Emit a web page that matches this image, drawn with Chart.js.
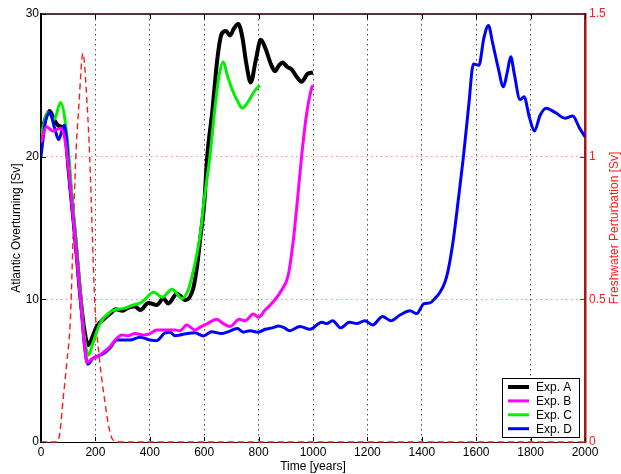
<!DOCTYPE html>
<html>
<head>
<meta charset="utf-8">
<script src="https://cdn.jsdelivr.net/npm/chart.js@4/dist/chart.umd.min.js"></script>
<style>
  html, body { margin: 0; padding: 0; background: #fff; }
</style>
</head>
<body>
<canvas id="overturning" width="621" height="474"></canvas>
<script>
// tick positions
const timeTicks = [0, 200, 400, 600, 800, 1000, 1200, 1400, 1600, 1800, 2000];
const sverdrupTicks = [0, 10, 20, 30];
const perturbationTicks = [0, 0.5, 1, 1.5];

// Exp. A
const expAYears = [0, 15, 32, 48, 62, 80, 90, 102, 125, 146, 160, 173, 190, 205, 230, 254, 275, 300, 320, 345, 365, 395, 425, 450, 468, 500, 532, 560, 575, 585, 600, 611, 630, 648, 664, 680, 695, 710, 725, 740, 755, 771, 790, 808, 825, 845, 860, 875, 888, 905, 922, 940, 958, 980, 1000];
const expAValues = [21.5, 22.6, 23.2, 22.6, 22.2, 22.0, 21.5, 19.0, 14.5, 10.0, 7.8, 6.8, 7.4, 8.1, 8.6, 9.0, 9.3, 9.2, 9.4, 9.5, 9.25, 9.75, 9.6, 10.05, 9.7, 10.4, 9.95, 10.8, 12.5, 14.2, 16.7, 20.0, 23.2, 26.8, 28.6, 28.8, 28.5, 29.0, 29.3, 28.4, 26.5, 25.2, 26.8, 28.2, 27.6, 26.5, 26.0, 26.4, 26.6, 26.3, 26.1, 25.6, 25.25, 25.8, 25.9];

// Exp. B
const expBYears = [0, 20, 44, 72, 90, 102, 125, 146, 160, 170, 185, 209, 230, 254, 275, 297, 320, 345, 376, 401, 425, 450, 493, 511, 536, 566, 585, 609, 646, 670, 695, 729, 750, 781, 799, 824, 854, 885, 909, 928, 943, 958, 975, 995, 1000];
const expBValues = [21.0, 22.1, 21.8, 22.0, 21.0, 19.0, 14.3, 9.8, 6.8, 5.55, 5.8, 6.0, 6.3, 6.7, 7.2, 7.5, 7.45, 7.6, 7.5, 7.6, 7.85, 7.85, 7.85, 7.8, 8.2, 7.85, 8.05, 8.27, 8.6, 8.3, 8.1, 8.6, 8.5, 8.97, 8.74, 9.25, 9.83, 10.65, 11.7, 14.2, 17.0, 20.0, 22.8, 24.8, 25.0];

// Exp. C
const expCYears = [0, 26, 48, 72, 97, 115, 146, 160, 175, 190, 217, 254, 280, 300, 339, 370, 415, 445, 482, 518, 540, 560, 585, 600, 621, 640, 655, 670, 685, 701, 720, 740, 760, 785, 805];
const expCValues = [21.5, 23.1, 22.6, 23.8, 21.2, 17.0, 10.3, 7.3, 6.1, 6.9, 8.3, 9.1, 9.3, 9.35, 9.6, 9.8, 10.5, 10.15, 10.7, 10.05, 10.6, 12.0, 14.5, 17.0, 20.0, 23.5, 25.7, 26.65, 25.7, 24.8, 24.0, 23.4, 23.8, 24.6, 25.0];

// Exp. D
const expDYears = [0, 15, 32, 50, 65, 85, 95, 102, 125, 146, 160, 172, 190, 205, 230, 254, 278, 300, 327, 364, 400, 425, 456, 474, 493, 523, 566, 597, 627, 664, 684, 722, 744, 768, 799, 824, 850, 873, 895, 915, 952, 989, 1032, 1050, 1072, 1102, 1134, 1161, 1191, 1219, 1256, 1286, 1320, 1357, 1381, 1408, 1430, 1450, 1467, 1485, 1497, 1516, 1535, 1553, 1572, 1590, 1610, 1628, 1645, 1660, 1680, 1700, 1715, 1727, 1740, 1761, 1776, 1795, 1814, 1835, 1857, 1890, 1926, 1955, 1980, 2000];
const expDValues = [20.0, 22.3, 23.1, 22.0, 21.2, 22.2, 21.0, 19.0, 14.3, 9.8, 6.7, 5.45, 5.85, 6.0, 6.2, 6.6, 7.15, 7.15, 7.15, 7.35, 7.15, 7.1, 7.65, 7.7, 7.45, 7.55, 7.65, 7.43, 7.73, 7.6, 7.7, 7.95, 7.7, 7.8, 7.7, 7.9, 8.0, 8.13, 8.0, 7.8, 8.1, 7.9, 8.4, 8.3, 8.5, 8.0, 8.4, 8.3, 8.5, 8.2, 8.8, 8.5, 8.9, 9.2, 9.0, 9.7, 9.75, 10.1, 10.5, 11.2, 12.05, 14.2, 17.1, 20.0, 23.5, 26.5, 26.4, 28.3, 29.2, 28.0, 26.3, 24.9, 26.0, 27.0, 25.8, 24.0, 24.2, 22.8, 21.8, 22.9, 23.4, 23.1, 22.7, 22.85, 22.0, 21.4];

// freshwater perturbation (right axis)
const freshYears = [0, 60, 69, 81, 95, 108, 118, 128, 139, 154, 170, 179, 188, 197, 215, 234, 250, 265, 300, 2000];
const freshValues = [0, 0, 0.03, 0.147, 0.28, 0.43, 0.72, 1.0, 1.175, 1.362, 1.175, 1.0, 0.75, 0.5, 0.29, 0.147, 0.05, 0.007, 0, 0];

const toPoints = (xs, ys) => xs.map((x, i) => ({ x: x, y: ys[i] }));

const FONT = '"Liberation Sans", Arial, Helvetica, sans-serif';
Chart.defaults.font.family = FONT;
Chart.defaults.font.size = 12;
Chart.defaults.color = '#000';

const RED = '#ff1a1a';
const DARKRED = '#a01818';

// axes box: top edge, inward tick marks, right-hand title and the boxed legend
const axesDecor = {
  id: 'axesDecor',
  afterDatasetsDraw(chart) {
    const { ctx, chartArea: a, scales } = chart;
    ctx.save();
    ctx.lineWidth = 1.5;
    ctx.strokeStyle = '#000';
    ctx.beginPath();
    ctx.moveTo(a.left, a.top);
    ctx.lineTo(a.right, a.top);
    ctx.stroke();
    ctx.setLineDash([1.5, 3.5]);
    ctx.strokeStyle = 'rgba(255,0,0,0.7)';
    ctx.lineWidth = 1;
    ctx.beginPath();
    ctx.moveTo(a.left, a.top);
    ctx.lineTo(a.right, a.top);
    ctx.stroke();
    ctx.setLineDash([]);

    ctx.lineWidth = 1;
    ctx.strokeStyle = '#000';
    ctx.beginPath();
    timeTicks.forEach(t => {
      const px = Math.round(scales.x.getPixelForValue(t)) + 0.5;
      ctx.moveTo(px, a.bottom - 1); ctx.lineTo(px, a.bottom - 5);
      ctx.moveTo(px, a.top); ctx.lineTo(px, a.top + 5);
    });
    sverdrupTicks.forEach(t => {
      const py = Math.round(scales.y.getPixelForValue(t)) + 0.5;
      ctx.moveTo(a.left, py); ctx.lineTo(a.left + 5, py);
    });
    ctx.stroke();
    ctx.strokeStyle = DARKRED;
    ctx.beginPath();
    perturbationTicks.forEach(t => {
      const py = Math.round(scales.y1.getPixelForValue(t)) + 0.5;
      ctx.moveTo(a.right, py); ctx.lineTo(a.right - 5, py);
    });
    ctx.stroke();

    // right axis title reads bottom-to-top like the left one
    ctx.translate(615, (a.top + a.bottom) / 2);
    ctx.rotate(-Math.PI / 2);
    ctx.font = '12px ' + FONT;
    ctx.fillStyle = RED;
    ctx.textAlign = 'center';
    ctx.textBaseline = 'middle';
    ctx.fillText('Freshwater Perturbation [Sv]', 0, 0);
    ctx.restore();
  },
  afterDraw(chart) {
    const { ctx, chartArea: a } = chart;
    const entries = chart.data.datasets.filter(d => d.label);
    const w = 77, rowH = 13.9;
    const h = 59;
    const x0 = a.right - 83, y0 = a.bottom - 64;
    ctx.save();
    ctx.fillStyle = '#fff';
    ctx.fillRect(x0, y0, w, h);
    ctx.strokeStyle = '#000';
    ctx.lineWidth = 1;
    ctx.strokeRect(Math.round(x0) + 0.5, Math.round(y0) + 0.5, w, h);
    ctx.font = '12px ' + FONT;
    ctx.textBaseline = 'middle';
    ctx.fillStyle = '#000';
    entries.forEach((d, i) => {
      const y = y0 + 9 + i * rowH;
      ctx.strokeStyle = d.borderColor;
      ctx.lineWidth = d.borderWidth;
      ctx.beginPath();
      ctx.moveTo(x0 + 6, y);
      ctx.lineTo(x0 + 27, y);
      ctx.stroke();
      ctx.fillText(d.label, x0 + 34, y + 0.5);
    });
    ctx.restore();
  }
};

const curve = { pointRadius: 0, fill: false, cubicInterpolationMode: 'monotone', yAxisID: 'y' };

new Chart(document.getElementById('overturning'), {
  type: 'line',
  data: {
    datasets: [
      { ...curve, label: 'Exp. A', data: toPoints(expAYears, expAValues), borderColor: '#000000', borderWidth: 4, order: 4 },
      { ...curve, label: 'Exp. B', data: toPoints(expBYears, expBValues), borderColor: '#ff00ff', borderWidth: 3, order: 1 },
      { ...curve, label: 'Exp. C', data: toPoints(expCYears, expCValues), borderColor: '#00f000', borderWidth: 3, order: 3 },
      { ...curve, label: 'Exp. D', data: toPoints(expDYears, expDValues), borderColor: '#0000ff', borderWidth: 3, order: 2 },
      { ...curve, label: '', data: toPoints(freshYears, freshValues), borderColor: RED, borderWidth: 1.4, borderDash: [6, 4], yAxisID: 'y1', order: 5, clip: false }
    ]
  },
  options: {
    responsive: false,
    animation: false,
    devicePixelRatio: 1,
    layout: { padding: { top: 14, left: 0, right: 0, bottom: 0 } },
    plugins: { legend: { display: false }, tooltip: { enabled: false } },
    scales: {
      x: {
        type: 'linear', position: 'bottom', min: 0, max: 2000,
        afterBuildTicks: s => { s.ticks = timeTicks.map(v => ({ value: v })); },
        afterFit: s => { s.height = 32; },
        ticks: { padding: 3, callback: v => String(v), maxRotation: 0, color: '#000' },
        grid: { color: 'rgba(0,0,0,0.7)', lineWidth: 1, drawTicks: false },
        border: { color: '#000', width: 1, dash: [1.5, 3.5] },
        title: { display: true, text: 'Time [years]', color: '#000', padding: { top: 0, bottom: 0 } }
      },
      y: {
        position: 'left', min: 0, max: 30,
        afterBuildTicks: s => { s.ticks = sverdrupTicks.map(v => ({ value: v })); },
        afterFit: s => { s.width = 41; },
        ticks: { padding: 2, color: '#000', callback: v => String(v) },
        grid: { display: false, drawTicks: false },
        border: { color: '#000', width: 2 },
        title: { display: true, text: 'Atlantic Overturning [Sv]', color: '#000', padding: { top: 9, bottom: 9 } }
      },
      y1: {
        position: 'right', min: 0, max: 1.5,
        afterBuildTicks: s => { s.ticks = perturbationTicks.map(v => ({ value: v })); },
        afterFit: s => { s.width = 36; },
        ticks: { padding: 4, color: RED, callback: v => String(v) },
        grid: { color: 'rgba(255,0,0,0.45)', lineWidth: 1, drawTicks: false },
        border: { color: DARKRED, width: 2.5, dash: [1.5, 3.5] },
        title: { display: false }
      }
    }
  },
  plugins: [axesDecor]
});
</script>
</body>
</html>
